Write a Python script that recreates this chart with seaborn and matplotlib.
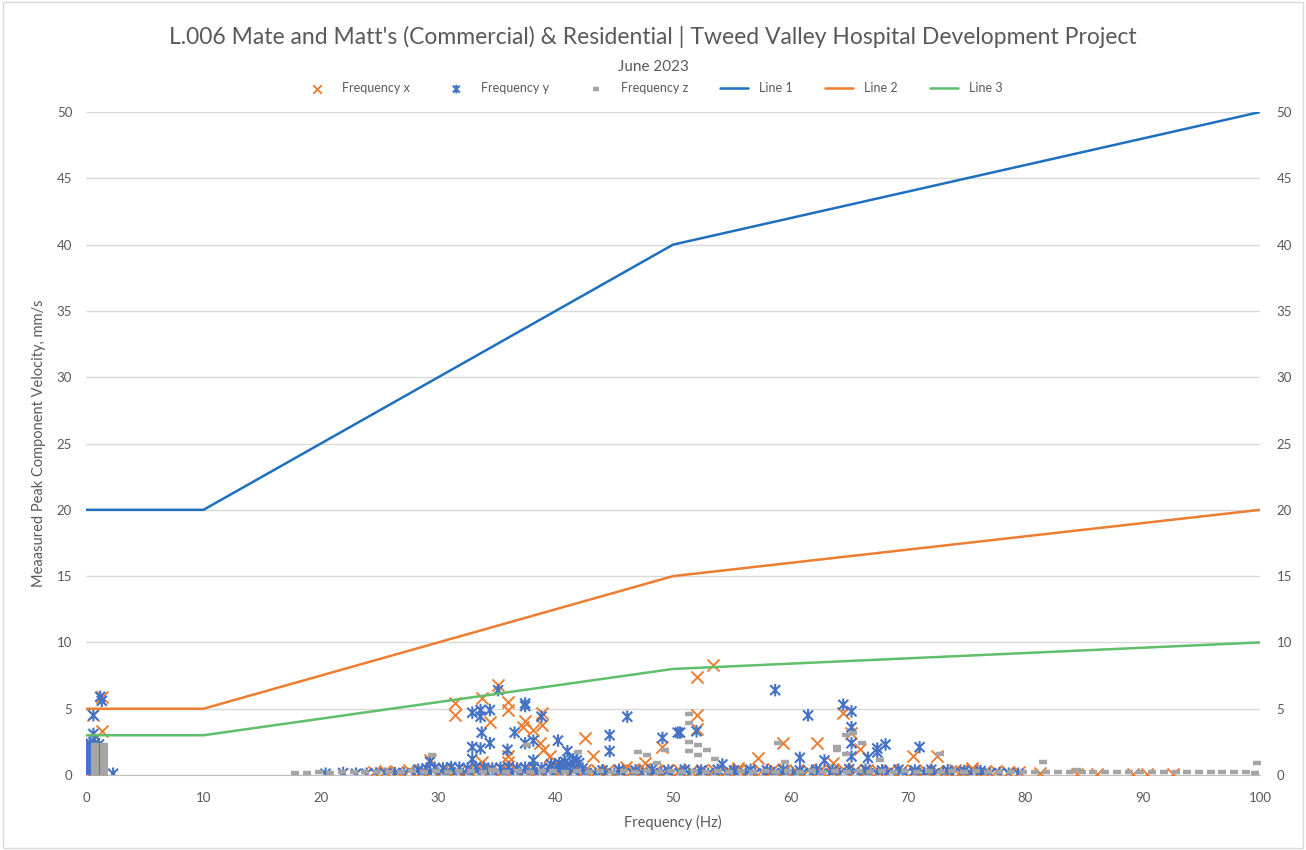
import matplotlib
matplotlib.use("Agg")
import numpy as np
import pandas as pd
import seaborn as sns
from matplotlib import pyplot as plt
from matplotlib.patches import Rectangle
from matplotlib.path import Path

# ---- criteria lines ----
line_f = [0, 10, 50, 100]
line1_v = [20, 20, 40, 50]
line2_v = [5, 5, 15, 20]
line3_v = [3, 3, 8, 10]

# ---- Frequency x (orange) ----
fx_out_f = [1.34, 0.62, 1.34, 35.1, 31.4, 31.4, 33.7, 35.9, 35.9, 34.4, 37.4, 37.2, 38.1, 38.8, 38.8,
            38.7, 38.9, 39.5, 35.9, 35.9, 29.3, 42.5, 43.2, 49.1, 47.6, 33.7, 53.4, 52.0, 52.0, 52.0,
            59.4, 62.3, 64.5, 65.2, 65.9, 57.2, 70.4, 72.5, 63.6, 46.0, 55.5, 74.0, 75.5]
fx_out_v = [5.9, 4.5, 3.3, 6.8, 5.4, 4.5, 5.8, 5.5, 4.9, 4.0, 4.1, 3.6, 3.4, 4.7, 3.8,
            2.4, 1.9, 1.4, 1.4, 1.0, 1.1, 2.8, 1.4, 2.1, 0.9, 1.0, 8.3, 7.4, 4.5, 3.5,
            2.4, 2.4, 4.7, 3.2, 2.0, 1.3, 1.4, 1.4, 0.9, 0.6, 0.5, 0.4, 0.5]
fx_band_f = [24.5, 25.5, 26.5, 27.5, 28.5, 29.5, 30.5, 31.5, 32.5, 33.5, 34.5, 35.5, 36.5, 37.5, 38.5,
             39.5, 40.5, 41.5, 42.5, 43.5, 44.5, 45.5, 46.5, 47.5, 48.5, 49.5, 50.5, 51.5, 52.5, 53.5,
             54.5, 55.5, 56.5, 57.5, 58.5, 59.5, 60.5, 61.5, 62.5, 63.5, 64.5, 65.5, 66.5, 67.5, 68.5,
             69.5, 70.5, 71.5, 72.5, 73.5, 74.5, 75.5, 76.5, 77.5, 78.5, 79.5, 81.3, 84.4, 86.1, 89.2,
             90.4, 92.6]
fx_band_v = [0.2, 0.3, 0.25, 0.35, 0.3, 0.4, 0.45, 0.35, 0.4, 0.5, 0.45, 0.4, 0.5, 0.45, 0.4,
             0.5, 0.45, 0.35, 0.4, 0.35, 0.4, 0.3, 0.35, 0.45, 0.3, 0.4, 0.35, 0.3, 0.4, 0.35,
             0.3, 0.4, 0.35, 0.3, 0.45, 0.35, 0.3, 0.4, 0.35, 0.3, 0.45, 0.35, 0.4, 0.3, 0.35,
             0.4, 0.3, 0.35, 0.3, 0.25, 0.3, 0.35, 0.25, 0.3, 0.2, 0.25, 0.15, 0.1, 0.1, 0.1,
             0.1, 0.1]
fx_left_f = [0.5, 0.5, 0.5, 0.5, 0.5, 0.9, 0.9, 0.9, 0.9, 1.2, 1.2]
fx_left_v = [0.2, 0.7, 1.2, 1.7, 2.2, 0.4, 0.9, 1.4, 1.9, 0.3, 1.0]

# ---- Frequency y (blue) ----
fy_out_f = [1.34, 1.2, 0.62, 0.62, 2.3, 35.1, 32.9, 33.6, 33.6, 33.7, 34.4, 37.4, 37.4, 38.8, 36.5,
            38.1, 37.4, 32.9, 33.6, 34.4, 32.9, 35.9, 40.2, 41.0, 46.1, 44.6, 44.6, 49.1, 50.4, 38.1,
            41.8, 29.3, 58.7, 61.5, 64.5, 65.2, 65.2, 65.2, 65.2, 52.0, 50.6, 60.8, 62.9, 67.4, 67.4,
            68.1, 71.0, 66.6, 54.2, 40.3, 40.8, 41.2, 41.5, 40.6, 39.6, 42.0]
fy_out_v = [5.6, 5.9, 4.5, 3.1, 0.1, 6.4, 4.7, 4.9, 4.4, 3.2, 4.9, 5.4, 5.2, 4.4, 3.2,
            2.6, 2.4, 2.1, 2.0, 2.4, 1.2, 1.9, 2.6, 1.8, 4.4, 3.0, 1.8, 2.8, 3.2, 1.1,
            1.1, 1.0, 6.4, 4.5, 5.3, 4.8, 3.6, 2.4, 1.4, 3.3, 3.2, 1.3, 1.1, 2.0, 1.7,
            2.3, 2.1, 1.3, 0.8, 0.9, 1.0, 0.8, 1.2, 0.7, 0.8, 0.9]
fy_band_f = [20.4, 21.9, 23.0, 23.9, 24.7, 25.5, 26.3, 27.1, 27.9, 28.6, 29.3, 30.0, 30.7, 31.4, 32.1,
             32.8, 33.5, 34.2, 34.9, 35.6, 36.3, 37.0, 37.7, 38.4, 39.1, 39.8, 40.5, 41.2, 41.9, 42.6,
             43.4, 44.2, 45.0, 45.8, 46.6, 47.4, 48.2, 49.0, 49.8, 50.6, 51.4, 52.2, 53.0, 53.8, 54.6,
             55.4, 56.2, 57.0, 57.8, 58.6, 59.4, 60.2, 61.0, 61.8, 62.6, 63.4, 64.2, 65.0, 65.8, 66.6,
             67.4, 68.2, 69.0, 69.8, 70.6, 71.4, 72.2, 73.0, 73.8, 74.6, 75.4, 76.2, 77.0, 77.8, 78.6,
             79.4]
fy_band_v = [0.1, 0.15, 0.1, 0.1, 0.12, 0.1, 0.15, 0.12, 0.1, 0.15, 0.1, 0.12, 0.1, 0.15, 0.1,
             0.12, 0.1, 0.15, 0.1, 0.12, 0.1, 0.15, 0.1, 0.12, 0.1, 0.15, 0.1, 0.12, 0.1, 0.15,
             0.1, 0.12, 0.1, 0.15, 0.1, 0.12, 0.1, 0.15, 0.1, 0.12, 0.1, 0.15, 0.1, 0.12, 0.1,
             0.15, 0.1, 0.12, 0.1, 0.15, 0.1, 0.12, 0.1, 0.15, 0.1, 0.12, 0.1, 0.15, 0.1, 0.12,
             0.1, 0.15, 0.1, 0.12, 0.1, 0.15, 0.1, 0.12, 0.1, 0.15, 0.1, 0.12, 0.1, 0.15, 0.1,
             0.1]
fy_top_f = [28.3, 29.0, 29.7, 30.4, 31.1, 31.8, 32.5, 33.2, 33.9, 34.6, 35.3, 36.0, 36.7, 37.4, 38.1,
            38.8, 39.5, 40.2, 40.9, 41.6, 42.3, 44.0, 45.4, 46.8, 48.2, 49.6, 51.0, 52.4, 53.8, 55.2,
            56.6, 58.0, 59.4, 60.8, 62.2, 63.6, 65.0, 66.4, 67.8, 69.2, 70.6, 72.0, 73.4, 74.8, 76.2]
fy_top_v = [0.4, 0.5, 0.55, 0.5, 0.6, 0.55, 0.5, 0.6, 0.55, 0.5, 0.55, 0.6, 0.5, 0.55, 0.6,
            0.5, 0.55, 0.65, 0.6, 0.55, 0.5, 0.35, 0.4, 0.35, 0.4, 0.35, 0.4, 0.35, 0.4, 0.35,
            0.4, 0.35, 0.4, 0.35, 0.4, 0.35, 0.45, 0.4, 0.35, 0.4, 0.35, 0.4, 0.35, 0.3, 0.3]
fy_left_f = [0.35, 0.35, 0.35, 0.35, 0.35, 0.35, 0.35, 0.35, 0.35, 0.35, 0.35, 0.35, 0.35,
             0.75, 0.75, 0.75, 0.75, 0.75, 0.75, 0.75, 0.75, 0.75, 0.75, 0.75, 0.75, 0.75,
             1.1, 1.1, 1.1, 1.1, 1.1, 1.1, 1.1, 1.1, 1.1, 1.1, 1.1, 1.1]
fy_left_v = [0.0, 0.2, 0.4, 0.6, 0.8, 1.0, 1.2, 1.4, 1.6, 1.8, 2.0, 2.2, 2.4,
             0.0, 0.2, 0.4, 0.6, 0.8, 1.0, 1.2, 1.4, 1.6, 1.8, 2.0, 2.2, 2.4,
             0.0, 0.2, 0.4, 0.6, 0.8, 1.0, 1.2, 1.4, 1.6, 1.8, 2.0, 2.3]

# ---- Frequency z (grey) ----
fz_out_f = [29.5, 37.6, 41.9, 47.0, 47.8, 48.6, 49.3, 34.6, 51.4, 51.4, 51.4, 52.1, 52.1, 52.9, 53.6,
            58.9, 59.5, 64.0, 64.0, 64.7, 65.3, 64.7, 66.1, 67.6, 72.7, 51.4, 81.5, 99.7, 84.4]
fz_out_v = [1.5, 2.3, 1.7, 1.7, 1.5, 0.9, 1.9, 0.4, 3.9, 2.5, 1.8, 2.3, 1.5, 1.9, 1.2,
            2.4, 1.0, 2.1, 1.9, 3.0, 3.2, 1.6, 2.4, 1.1, 1.6, 4.6, 1.0, 0.9, 0.4]
fz_band_f = [17.8, 18.8, 19.8, 20.8, 21.8, 22.8, 23.8, 24.8, 25.8, 26.8, 27.8, 28.8, 29.8, 30.8, 31.8,
             32.8, 33.8, 34.8, 35.8, 36.8, 37.8, 38.8, 39.8, 40.8, 41.8, 42.8, 43.8, 44.8, 45.8, 46.8,
             47.8, 48.8, 49.8, 50.8, 51.8, 52.8, 53.8, 54.8, 55.8, 56.8, 57.8, 58.8, 59.8, 60.8, 61.8,
             62.8, 63.8, 64.8, 65.8, 66.8, 67.8, 68.8, 69.8, 70.8, 71.8, 72.8, 73.8, 74.8, 75.8, 76.8,
             77.8, 78.8, 79.8, 80.8, 81.8, 82.8, 83.8, 84.8, 85.8, 86.8, 87.8, 88.8, 89.8, 90.8, 91.8,
             92.8, 93.8, 94.8, 95.8, 96.8, 97.8, 98.8, 99.6]
fz_band_v = [0.15, 0.15, 0.2, 0.15, 0.2, 0.2, 0.25, 0.2, 0.25, 0.2, 0.3, 0.25, 0.3, 0.25, 0.3,
             0.3, 0.25, 0.3, 0.25, 0.3, 0.25, 0.3, 0.3, 0.25, 0.3, 0.25, 0.3, 0.25, 0.3, 0.25,
             0.3, 0.25, 0.3, 0.25, 0.3, 0.25, 0.3, 0.25, 0.3, 0.25, 0.3, 0.25, 0.3, 0.25, 0.3,
             0.25, 0.3, 0.25, 0.3, 0.25, 0.3, 0.25, 0.3, 0.25, 0.3, 0.25, 0.3, 0.25, 0.3, 0.25,
             0.25, 0.2, 0.25, 0.2, 0.25, 0.2, 0.25, 0.2, 0.2, 0.25, 0.2, 0.25, 0.2, 0.25, 0.2,
             0.2, 0.25, 0.2, 0.2, 0.2, 0.2, 0.25, 0.15]
fz_left_f = [0.75, 0.75, 0.75, 0.75, 0.75, 0.75, 0.75, 0.75, 0.75, 0.75, 0.75, 0.75,
             1.5, 1.5, 1.5, 1.5, 1.5, 1.5, 1.5, 1.5, 1.5, 1.5, 1.5, 1.5]
fz_left_v = [0.1, 0.3, 0.5, 0.7, 0.9, 1.1, 1.3, 1.5, 1.7, 1.9, 2.1, 2.3,
             0.1, 0.3, 0.5, 0.7, 0.9, 1.1, 1.3, 1.5, 1.7, 1.9, 2.1, 2.3]

ORANGE = "#ED7D31"
BLUE = "#4472C4"
GREY = "#A5A5A5"
L1 = "#1F6FBF"
L2 = "#ED7D31"
L3 = "#5FBF6A"
TXT = "#595959"

# excel style "star" marker: an x with a vertical stroke
star = Path([(-1, -1), (1, 1), (-1, 1), (1, -1), (0, -1.25), (0, 1.25)],
            [Path.MOVETO, Path.LINETO, Path.MOVETO, Path.LINETO, Path.MOVETO, Path.LINETO])

sns.set_style("white")
plt.rcParams["font.family"] = ["Lato", "DejaVu Sans"]

fx = pd.DataFrame({"f": fx_band_f + fx_left_f + fx_out_f, "v": fx_band_v + fx_left_v + fx_out_v})
fy = pd.DataFrame({"f": fy_band_f + fy_top_f + fy_left_f + fy_out_f,
                   "v": fy_band_v + fy_top_v + fy_left_v + fy_out_v})
fz = pd.DataFrame({"f": fz_band_f + fz_left_f + fz_out_f, "v": fz_band_v + fz_left_v + fz_out_v})

fig = plt.figure(figsize=(13.06, 8.5), dpi=100)
ax = fig.add_axes([0.0659, 0.0882, 0.8989, 0.78])

sns.scatterplot(data=fx, x="f", y="v", ax=ax, marker="x", s=75, color=ORANGE,
                linewidth=1.4, label="Frequency x", zorder=3)
sns.scatterplot(data=fy, x="f", y="v", ax=ax, marker=star, s=80, facecolor="none",
                edgecolor=BLUE, linewidth=1.5, label="Frequency y", zorder=4)
sns.scatterplot(data=fz, x="f", y="v", ax=ax, marker="_", s=38, color=GREY,
                linewidth=3.2, label="Frequency z", zorder=5)

sns.lineplot(x=line_f, y=line1_v, ax=ax, color=L1, lw=1.8, sort=False, estimator=None,
             label="Line 1", zorder=6)
sns.lineplot(x=line_f, y=line2_v, ax=ax, color=L2, lw=1.8, sort=False, estimator=None,
             label="Line 2", zorder=6)
sns.lineplot(x=line_f, y=line3_v, ax=ax, color=L3, lw=1.8, sort=False, estimator=None,
             label="Line 3", zorder=6)

ax.set_xlim(0, 100)
ax.set_ylim(0, 50)
ax.set_xticks(range(0, 101, 10))
ax.set_yticks(range(0, 51, 5))
ax.yaxis.grid(True, color="#D9D9D9", lw=1)
ax.set_axisbelow(True)
for sp in ["top", "left", "right"]:
    ax.spines[sp].set_visible(False)
ax.spines["bottom"].set_color("#BFBFBF")
ax.tick_params(axis="x", length=0, labelsize=9.5, colors=TXT, pad=12)
ax.tick_params(axis="y", length=0, labelsize=9.5, colors=TXT, pad=10)
ax.set_xlabel("Frequency (Hz)", fontsize=10.5, color=TXT, labelpad=8)
ax.set_ylabel("Meaasured Peak Component Velocity, mm/s", fontsize=10.5, color=TXT, labelpad=8)

ax2 = ax.twinx()
ax2.set_ylim(0, 50)
ax2.set_yticks(range(0, 51, 5))
for sp in ax2.spines.values():
    sp.set_visible(False)
ax2.tick_params(axis="y", length=0, labelsize=9.5, colors=TXT, pad=12)

handles, labels = ax.get_legend_handles_labels()
ax.legend_.remove()
fig.legend(handles, labels, loc="center", bbox_to_anchor=(0.5, 0.896), ncol=6, frameon=False,
           fontsize=9, labelcolor=TXT, columnspacing=2.6, handlelength=2.2, handletextpad=0.9,
           markerscale=0.7)

fig.text(0.5, 0.956, "L.006 Mate and Matt's (Commercial) & Residential | Tweed Valley Hospital Development Project",
         ha="center", va="center", fontsize=16.5, color=TXT)
fig.text(0.5, 0.921, "June 2023", ha="center", va="center", fontsize=11, color=TXT)

fig.patches.append(Rectangle((0.002, 0.002), 0.996, 0.996, transform=fig.transFigure,
                             fill=False, edgecolor="#D9D9D9", lw=1))

fig.savefig("out.png", dpi=100)
